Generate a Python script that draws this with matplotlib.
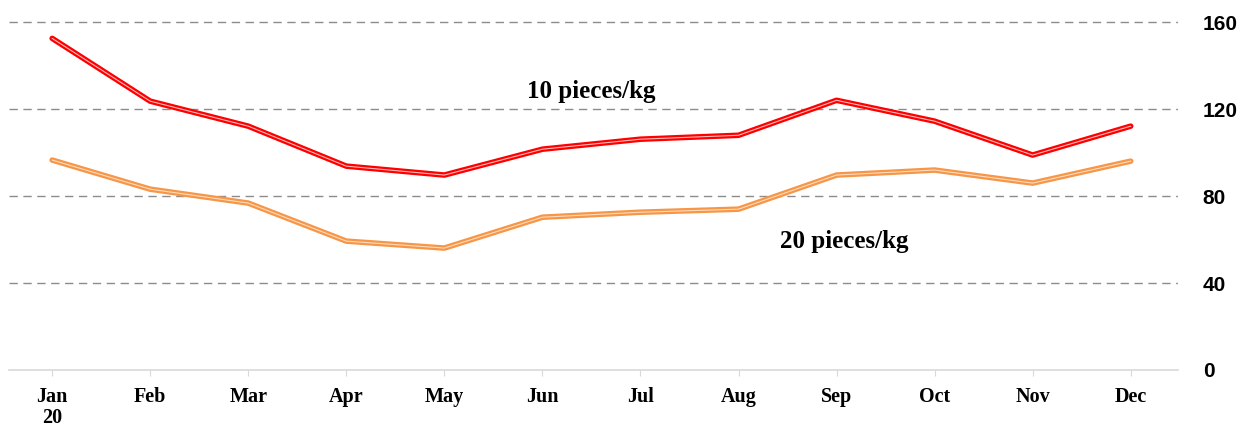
import matplotlib
matplotlib.use('Agg')
import matplotlib.pyplot as plt
import numpy as np

MONTHS = ['Jan\n20', 'Feb', 'Mar', 'Apr', 'May', 'Jun', 'Jul', 'Aug',
          'Sep', 'Oct', 'Nov', 'Dec']
PCS_10 = [152.6, 123.7, 112.2, 93.8, 89.7, 101.6, 106.2, 108.0,
          124.1, 114.5, 98.9, 112.2]
PCS_20 = [96.6, 83.2, 76.8, 59.3, 56.1, 70.3, 72.6, 74.0,
          89.7, 92.0, 86.0, 96.1]
YTICKS = [0, 40, 80, 120, 160]


def price_chart():
    fig = plt.figure(figsize=(12.54, 4.26), dpi=100)
    ax = fig.add_axes([0.0072, 0.1315, 0.932, 0.857])
    x = np.arange(len(MONTHS))

    # Double-stroke look: thick dark line with a pale core
    for vals, outer, inner in [(PCS_20, '#F79646', '#FDDCC0'),
                               (PCS_10, '#FF0000', '#FFB8B8')]:
        ax.plot(x, vals, color=outer, lw=4.0, solid_capstyle='round',
                solid_joinstyle='round', zorder=3)
        ax.plot(x, vals, color=inner, lw=0.8, solid_capstyle='round',
                solid_joinstyle='round', zorder=4)

    ax.set_xlim(-0.44, 11.48)
    ax.set_ylim(0, 168)
    for y in YTICKS[1:]:
        ax.axhline(y, color='#8C8C8C', lw=1.0, ls=(0, (6, 4)), zorder=1)

    for side in ['left', 'top', 'right']:
        ax.spines[side].set_visible(False)
    ax.spines['bottom'].set_color('#D9D9D9')
    ax.spines['bottom'].set_linewidth(1.2)

    ax.set_xticks(x)
    ax.set_xticklabels(MONTHS, fontfamily='Liberation Serif',
                       fontweight='bold', fontsize=14.5, linespacing=1.1)
    ax.tick_params(axis='x', length=4, color='#D9D9D9', pad=8)

    ax.yaxis.tick_right()
    ax.set_yticks(YTICKS)
    ax.set_yticklabels([str(v) for v in YTICKS], fontfamily='Liberation Sans',
                       fontweight='bold', fontsize=15, ha='left')
    ax.tick_params(axis='y', length=0, pad=18)

    ax.text(5.5, 128, '10 pieces/kg', fontfamily='Liberation Serif',
            fontweight='bold', fontsize=18, ha='center', va='center')
    ax.text(8.08, 59, '20 pieces/kg', fontfamily='Liberation Serif',
            fontweight='bold', fontsize=18, ha='center', va='center')

    fig.savefig('out.png', dpi=100)


if __name__ == '__main__':
    price_chart()
